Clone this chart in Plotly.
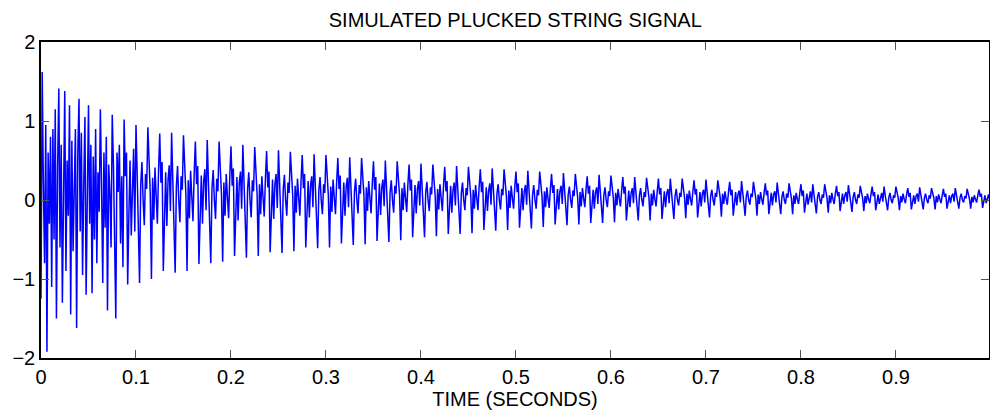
import numpy as np
import plotly.graph_objects as go

SAMPLE_RATE = 800

# attack: noisy first 0.1 s
early_samples = [
    -1.25, 1.62, 0.2, -0.8, 0.95, -1.92, 0.6, -0.3, 0.8, -1.1,
    0.9, -0.5, 1.15, -1.5, 0.4, 1.41, -0.6, 0.7, -1.3, 0.35,
    1.38, -0.9, 0.5, -0.2, 1.2, -1.45, 0.75, -0.65, 0.3, 0.9,
    -1.62, 0.6, 1.28, -0.4, 0.85, -0.95, 0.2, 1.05, -1.2, 0.5,
    1.2, -0.3, 0.7, -1.18, 0.55, -0.5, 0.9, -0.8, 0.35, -0.15,
    1.15, 0.2, -1.05, 0.6, -0.35, 0.8, -1.4, 0.45, 0.1, -0.6,
    1.08, 0.45, -0.3, -1.5, 0.6, 0.1, 0.7, -0.55, 0.3, -0.85,
    1.02, 0.3, 0.6, -1.07, -0.2, 0.5, -0.45, 0.35, 0.65, -0.4,
]

# 0.1 s .. 0.4 s
mid_samples = [
    0.95, 0.33, -0.21, -1.05, 0.19, 0.48, 0.0, -0.32, 0.33, 0.14,
    0.92, 0.46, 0.09, -1.0, 0.28, -0.25, 0.41, 0.05, -0.3, 0.37,
    0.84, 0.22, 0.48, -0.9, -0.1, 0.35, -0.33, 0.26, 0.44, -0.14,
    0.85, 0.3, -0.18, -0.92, 0.17, 0.43, 0.0, -0.28, 0.3, 0.13,
    0.82, 0.41, 0.08, -0.9, 0.25, -0.23, 0.37, 0.04, -0.27, 0.33,
    0.74, 0.2, 0.43, -0.81, -0.09, 0.31, -0.3, 0.23, 0.39, -0.13,
    0.76, 0.27, -0.16, -0.8, 0.15, 0.38, 0.0, -0.24, 0.27, 0.11,
    0.74, 0.37, 0.07, -0.78, 0.22, -0.2, 0.33, 0.04, -0.23, 0.3,
    0.68, 0.18, 0.4, -0.71, -0.08, 0.29, -0.26, 0.22, 0.36, -0.11,
    0.7, 0.25, -0.15, -0.73, 0.14, 0.35, 0.0, -0.22, 0.25, 0.11,
    0.67, 0.34, 0.07, -0.71, 0.2, -0.18, 0.3, 0.03, -0.21, 0.27,
    0.62, 0.16, 0.36, -0.66, -0.07, 0.26, -0.24, 0.2, 0.33, -0.1,
    0.63, 0.22, -0.13, -0.67, 0.13, 0.32, 0.0, -0.2, 0.22, 0.09,
    0.61, 0.31, 0.06, -0.65, 0.18, -0.16, 0.27, 0.03, -0.2, 0.24,
    0.57, 0.15, 0.33, -0.6, -0.06, 0.24, -0.22, 0.18, 0.3, -0.09,
    0.58, 0.2, -0.12, -0.61, 0.12, 0.29, 0.0, -0.18, 0.2, 0.09,
    0.57, 0.29, 0.06, -0.6, 0.17, -0.15, 0.26, 0.03, -0.18, 0.23,
    0.53, 0.14, 0.31, -0.55, -0.06, 0.22, -0.2, 0.17, 0.28, -0.09,
    0.54, 0.19, -0.11, -0.57, 0.11, 0.27, 0.0, -0.17, 0.19, 0.08,
    0.53, 0.27, 0.05, -0.56, 0.16, -0.14, 0.24, 0.03, -0.17, 0.21,
    0.49, 0.13, 0.29, -0.52, -0.06, 0.21, -0.19, 0.16, 0.26, -0.08,
    0.5, 0.18, -0.11, -0.53, 0.1, 0.25, 0.0, -0.16, 0.18, 0.08,
    0.49, 0.25, 0.05, -0.51, 0.15, -0.13, 0.22, 0.02, -0.15, 0.2,
    0.45, 0.12, 0.26, -0.47, -0.05, 0.19, -0.17, 0.14, 0.24, -0.07,
]

# 0.4 s .. 0.7 s
decay_samples = [
    0.46, 0.16, -0.09, -0.47, 0.09, 0.23, 0.0, -0.14, 0.16, 0.07,
    0.45, 0.23, 0.05, -0.46, 0.14, -0.12, 0.2, 0.02, -0.14, 0.18,
    0.42, 0.11, 0.24, -0.43, -0.05, 0.18, -0.16, 0.13, 0.22, -0.07,
    0.43, 0.15, -0.09, -0.43, 0.09, 0.22, 0.0, -0.13, 0.15, 0.06,
    0.42, 0.21, 0.04, -0.42, 0.13, -0.11, 0.19, 0.02, -0.13, 0.17,
    0.39, 0.1, 0.23, -0.38, -0.04, 0.16, -0.14, 0.12, 0.21, -0.06,
    0.4, 0.14, -0.08, -0.39, 0.08, 0.2, 0.0, -0.12, 0.14, 0.06,
    0.39, 0.2, 0.04, -0.38, 0.12, -0.1, 0.18, 0.02, -0.11, 0.16,
    0.36, 0.1, 0.21, -0.35, -0.04, 0.15, -0.13, 0.11, 0.19, -0.06,
    0.37, 0.13, -0.07, -0.36, 0.07, 0.19, 0.0, -0.11, 0.13, 0.06,
    0.36, 0.18, 0.04, -0.34, 0.11, -0.09, 0.16, 0.02, -0.1, 0.14,
    0.33, 0.09, 0.19, -0.31, -0.03, 0.14, -0.12, 0.11, 0.18, -0.05,
    0.34, 0.12, -0.06, -0.32, 0.07, 0.17, 0.0, -0.1, 0.12, 0.05,
    0.33, 0.17, 0.03, -0.31, 0.1, -0.08, 0.15, 0.02, -0.09, 0.13,
    0.3, 0.08, 0.18, -0.29, -0.03, 0.13, -0.11, 0.1, 0.16, -0.05,
    0.32, 0.11, -0.06, -0.29, 0.06, 0.16, 0.0, -0.09, 0.11, 0.05,
    0.31, 0.16, 0.03, -0.28, 0.09, -0.07, 0.14, 0.02, -0.08, 0.12,
    0.29, 0.08, 0.17, -0.26, -0.03, 0.12, -0.09, 0.09, 0.15, -0.04,
    0.29, 0.1, -0.05, -0.26, 0.06, 0.15, 0.0, -0.08, 0.1, 0.04,
    0.28, 0.14, 0.03, -0.26, 0.08, -0.07, 0.13, 0.01, -0.08, 0.11,
    0.27, 0.07, 0.15, -0.24, -0.03, 0.11, -0.09, 0.08, 0.14, -0.04,
    0.27, 0.09, -0.05, -0.24, 0.05, 0.14, 0.0, -0.07, 0.09, 0.04,
    0.27, 0.14, 0.03, -0.23, 0.08, -0.06, 0.12, 0.01, -0.07, 0.11,
    0.25, 0.07, 0.14, -0.22, -0.02, 0.1, -0.08, 0.08, 0.13, -0.03,
]

# 0.7 s .. 1.0 s
tail_samples = [
    0.26, 0.09, -0.04, -0.22, 0.05, 0.13, 0.0, -0.07, 0.09, 0.04,
    0.25, 0.13, 0.03, -0.21, 0.08, -0.05, 0.11, 0.01, -0.06, 0.1,
    0.23, 0.06, 0.13, -0.2, -0.02, 0.1, -0.07, 0.07, 0.12, -0.03,
    0.24, 0.08, -0.04, -0.2, 0.05, 0.12, 0.0, -0.06, 0.08, 0.04,
    0.23, 0.12, 0.02, -0.2, 0.07, -0.05, 0.1, 0.01, -0.06, 0.09,
    0.21, 0.06, 0.12, -0.18, -0.02, 0.09, -0.07, 0.07, 0.11, -0.03,
    0.22, 0.08, -0.04, -0.18, 0.04, 0.11, 0.0, -0.05, 0.08, 0.03,
    0.21, 0.11, 0.02, -0.18, 0.06, -0.05, 0.09, 0.01, -0.05, 0.08,
    0.2, 0.05, 0.12, -0.16, -0.02, 0.08, -0.06, 0.06, 0.11, -0.03,
    0.2, 0.07, -0.03, -0.17, 0.04, 0.1, 0.0, -0.05, 0.07, 0.03,
    0.2, 0.1, 0.02, -0.16, 0.06, -0.04, 0.09, 0.01, -0.05, 0.08,
    0.18, 0.05, 0.1, -0.14, -0.02, 0.08, -0.05, 0.06, 0.1, -0.02,
    0.19, 0.07, -0.03, -0.15, 0.04, 0.1, 0.0, -0.05, 0.07, 0.03,
    0.18, 0.09, 0.02, -0.14, 0.05, -0.04, 0.08, 0.01, -0.04, 0.07,
    0.17, 0.05, 0.1, -0.13, -0.01, 0.07, -0.05, 0.05, 0.09, -0.02,
    0.17, 0.06, -0.03, -0.13, 0.03, 0.09, 0.0, -0.04, 0.06, 0.03,
    0.17, 0.09, 0.02, -0.13, 0.05, -0.03, 0.08, 0.01, -0.04, 0.07,
    0.15, 0.04, 0.09, -0.12, -0.01, 0.06, -0.05, 0.05, 0.08, -0.02,
    0.16, 0.06, -0.02, -0.12, 0.03, 0.08, 0.0, -0.04, 0.06, 0.02,
    0.15, 0.08, 0.02, -0.12, 0.05, -0.03, 0.07, 0.01, -0.04, 0.06,
    0.14, 0.04, 0.08, -0.11, -0.01, 0.06, -0.04, 0.05, 0.08, -0.02,
    0.15, 0.05, -0.02, -0.11, 0.03, 0.08, 0.0, -0.03, 0.05, 0.02,
    0.14, 0.07, 0.01, -0.11, 0.04, -0.03, 0.06, 0.01, -0.03, 0.06,
    0.13, 0.04, 0.08, -0.1, -0.01, 0.06, -0.04, 0.04, 0.07, -0.02,
]

x_ticks = [0, 0.1, 0.2, 0.3, 0.4, 0.5, 0.6, 0.7, 0.8, 0.9]
y_ticks = [-2, -1, 0, 1, 2]

signal = early_samples + mid_samples + decay_samples + tail_samples
t = np.arange(len(signal)) / SAMPLE_RATE

FONT = "Liberation Sans, Arial, Helvetica, sans-serif"

fig = go.Figure()
fig.add_trace(go.Scatter(
    x=t, y=signal, mode="lines",
    line=dict(color="#0000ff", width=1.5),
    showlegend=False,
))

axis_common = dict(
    showline=True, linecolor="black", linewidth=1.5, mirror="ticks",
    ticks="inside", ticklen=8, tickwidth=1, tickcolor="#555555",
    showgrid=False, zeroline=False,
    tickfont=dict(family=FONT, size=20, color="black"),
)

fig.update_layout(
    width=990, height=413,
    margin=dict(l=41, r=1, t=42, b=55),
    paper_bgcolor="white", plot_bgcolor="white",
    title=dict(text="SIMULATED PLUCKED STRING SIGNAL", x=0.5205, xanchor="center",
               y=0.952, yanchor="middle",
               font=dict(family=FONT, size=20, color="black")),
    xaxis=dict(range=[0, 0.998], tickvals=x_ticks, ticktext=[str(v) for v in x_ticks],
               title=dict(text="TIME (SECONDS)", standoff=0,
                          font=dict(family=FONT, size=20, color="black")),
               automargin=False, **axis_common),
    yaxis=dict(range=[-2, 2], tickvals=y_ticks, automargin=False, **axis_common),
)

# the page body has a default 8px margin; drop it so the figure sits at 0,0
fig.write_html("out.html", config={"displayModeBar": False},
               post_script="document.body.style.margin='0';")
